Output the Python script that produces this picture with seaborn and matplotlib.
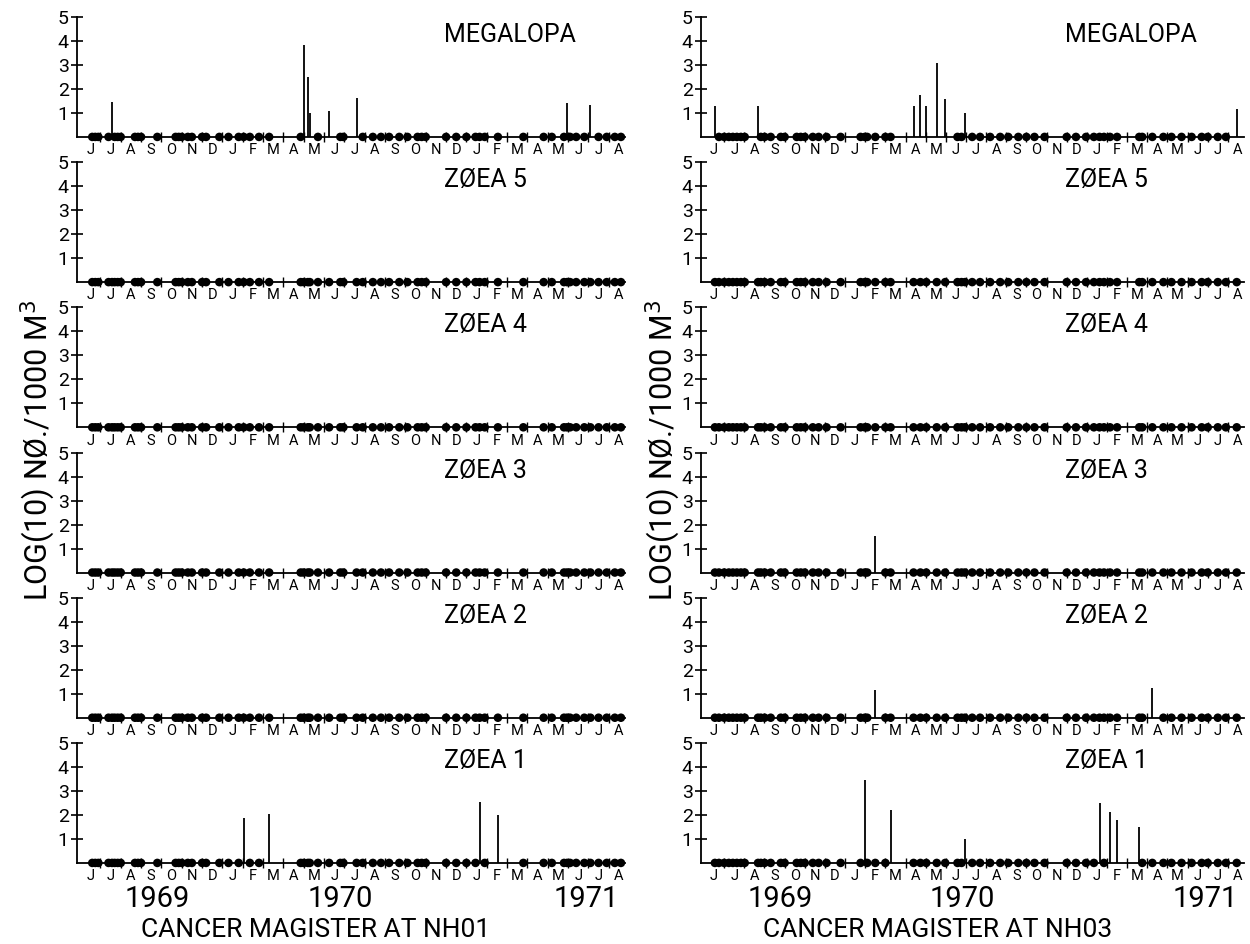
import numpy as np
import pandas as pd
import matplotlib
matplotlib.use("Agg")
import matplotlib.pyplot as plt
import seaborn as sns

# month letters (June 1969 .. August 1971), index 0 = June 1969
months = list("JJASONDJFMAMJJASONDJFMAMJJA")
years = ["1969", "1970", "1971"]
year_pos = [3.3, 12.3, 24.4]
stages = ["MEGALOPA", "ZØEA 5", "ZØEA 4", "ZØEA 3", "ZØEA 2", "ZØEA 1"]
stations = ["NH01", "NH03"]

# sampling dates (in months since start of June 1969)
nh01_dates = [0.1, 0.25, 0.4, 0.9, 1.07, 1.2, 1.35, 1.5, 2.2, 2.35, 2.5, 3.3,
              4.2, 4.35, 4.5, 4.8, 5.0, 5.5, 5.7, 6.35, 6.8, 7.3, 7.55, 7.85,
              8.3, 8.8, 10.35, 10.5, 10.7, 10.8, 11.2, 11.75, 12.3, 12.45,
              13.1, 13.4, 13.9, 14.3, 14.7, 15.2, 15.6, 16.1, 16.3, 16.5,
              17.5, 18.0, 18.5, 18.95, 19.15, 19.4, 20.05, 21.3, 22.3, 22.7,
              23.3, 23.45, 23.6, 23.9, 24.3, 24.6, 25.0, 25.4, 25.8, 26.1]
nh03_dates = [0.04, 0.24, 0.5, 0.73, 0.93, 1.13, 1.33, 1.52, 2.18, 2.32, 2.51,
              2.81, 3.31, 3.5, 4.1, 4.3, 4.5, 4.9, 5.19, 5.58, 6.28, 7.27,
              7.48, 7.6, 8.0, 8.5, 8.76, 9.9, 10.24, 10.53, 11.05, 11.47,
              12.08, 12.28, 12.45, 12.81, 13.2, 13.7, 14.2, 14.6, 15.1, 15.5,
              15.9, 16.4, 17.5, 17.96, 18.46, 18.85, 19.13, 19.35, 19.65, 20.0,
              21.1, 21.25, 21.75, 22.3, 22.7, 23.2, 23.7, 24.2, 24.5, 25.0,
              25.4, 25.94]

# non-zero catches: log10(no./1000 m3)
nh01_megalopa_t = [1.07, 10.5, 10.7, 10.8, 11.75, 13.1, 23.45, 24.6]
nh01_megalopa_v = [1.47, 3.81, 2.48, 1.0, 1.08, 1.61, 1.43, 1.33]
nh01_zoea1_t = [7.55, 8.8, 19.15, 20.05]
nh01_zoea1_v = [1.88, 2.04, 2.53, 1.99]

nh03_megalopa_t = [0.04, 2.18, 9.9, 10.24, 10.53, 11.05, 11.47, 12.45, 25.94]
nh03_megalopa_v = [1.3, 1.3, 1.3, 1.75, 1.27, 3.07, 1.59, 0.99, 1.16]
nh03_zoea3_t = [8.0]
nh03_zoea3_v = [1.51]
nh03_zoea2_t = [8.0, 21.75]
nh03_zoea2_v = [1.15, 1.25]
nh03_zoea1_t = [7.48, 8.76, 12.45, 19.13, 19.65, 20.0, 21.1]
nh03_zoea1_v = [3.45, 2.19, 1.0, 2.49, 2.12, 1.78, 1.51]

catches = {
    "NH01": {"MEGALOPA": (nh01_megalopa_t, nh01_megalopa_v),
             "ZØEA 1": (nh01_zoea1_t, nh01_zoea1_v)},
    "NH03": {"MEGALOPA": (nh03_megalopa_t, nh03_megalopa_v),
             "ZØEA 3": (nh03_zoea3_t, nh03_zoea3_v),
             "ZØEA 2": (nh03_zoea2_t, nh03_zoea2_v),
             "ZØEA 1": (nh03_zoea1_t, nh03_zoea1_v)},
}
sample_dates = {"NH01": nh01_dates, "NH03": nh03_dates}

sns.set_theme(style="white")
plt.rcParams["font.family"] = ["Roboto", "DejaVu Sans"]
for k in ["text.color", "axes.labelcolor", "xtick.color", "ytick.color",
          "axes.edgecolor"]:
    plt.rcParams[k] = "black"
plt.rcParams["axes.linewidth"] = 1.3

W, H = 1250, 944
fig = plt.figure(figsize=(W / 100, H / 100), dpi=100)

col_x = [(77, 625), (701, 1244)]
row_h = 145.2
top_px = 15

for c, st in enumerate(stations):
    x0, x1 = col_x[c]
    dates = np.array(sample_dates[st])
    for r, stage in enumerate(stages):
        y_top = top_px + r * row_h
        ax = fig.add_axes([x0 / W, 1 - (y_top + row_h) / H,
                           (x1 - x0) / W, row_h / H])
        ax.set_facecolor("none")
        t, v = catches[st].get(stage, ([], []))
        t = np.array(t)
        # zero catches shown as dots on the baseline
        zero = np.array([not np.any(np.isclose(d, t, atol=0.05)) for d in dates])
        df = pd.DataFrame({"date": dates[zero], "val": 0.0})
        sns.scatterplot(data=df, x="date", y="val", ax=ax, color="black",
                        s=38, edgecolor="none", legend=False, clip_on=False,
                        zorder=3)
        if len(t):
            ax.vlines(t, 0, v, color="black", lw=1.3)

        ax.set_xlim(-0.65, 26.3)
        ax.set_ylim(-0.97, 5.08)
        sns.despine(ax=ax, top=True, right=True)
        ax.spines["bottom"].set_position(("data", 0))
        ax.spines["left"].set_bounds(0, 5)

        ax.set_yticks([1, 2, 3, 4, 5])
        ax.set_yticklabels(["1", "2", "3", "4", "5"])
        ax.tick_params(axis="y", direction="inout", length=8, width=1.2,
                       labelsize=14, pad=2, left=True)

        ax.set_xticks(np.arange(len(months) - 1) + 0.5)
        ax.set_xticklabels([])
        ax.set_xticks(np.arange(len(months)), minor=True)
        ax.set_xticklabels(months, minor=True)
        ax.tick_params(axis="x", which="major", direction="inout", length=7,
                       width=1.0, bottom=True)
        ax.tick_params(axis="x", which="minor", length=0, labelsize=10.5,
                       pad=4.5, bottom=True)
        ax.set_xlabel("")
        ax.set_ylabel("")

        ax.text(17.4, 4.25, stage, fontsize=18, ha="left", va="center")

        if r == len(stages) - 1:
            for yr, xp in zip(years, year_pos):
                ax.text(xp, -1.5, yr, fontsize=21, ha="center", va="center",
                        clip_on=False)
            ax.text(11.1, -2.78, "CANCER MAGISTER AT " + st, fontsize=19,
                    ha="center", va="center", clip_on=False)

    fig.text((x0 - 39) / W, 1 - 450 / H, "LOG(10) NØ./1000 M$^3$",
             rotation=90, fontsize=22, ha="center", va="center")

fig.savefig("out.png", dpi=100)
